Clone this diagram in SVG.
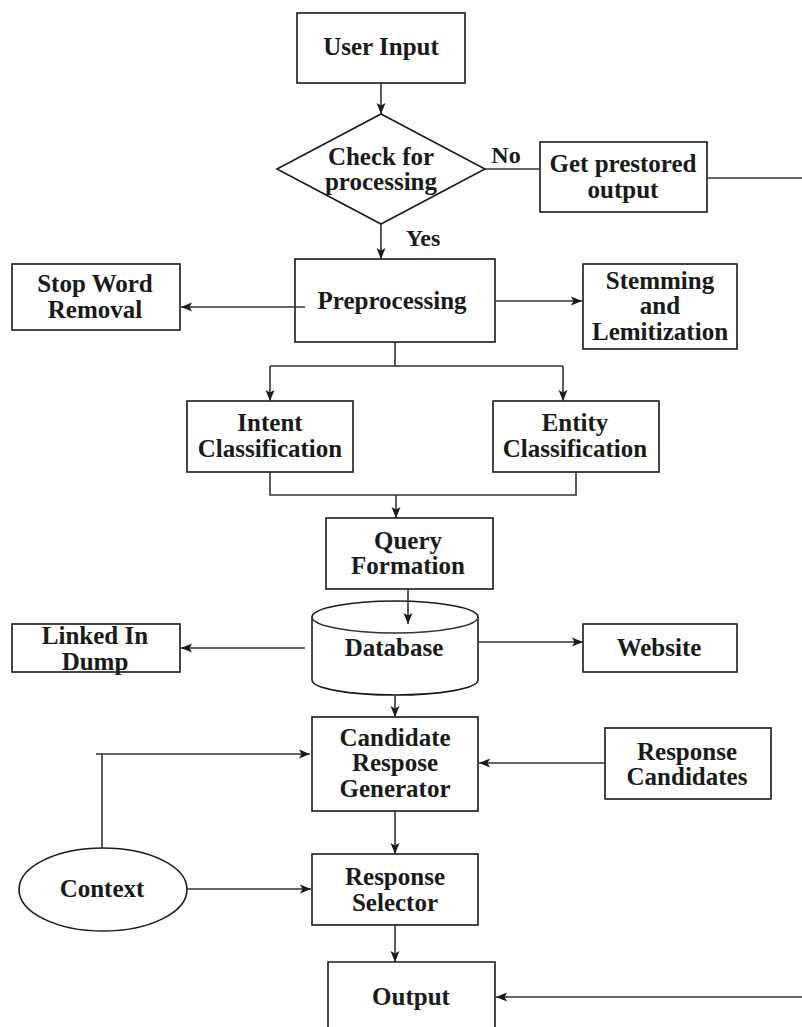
<svg xmlns="http://www.w3.org/2000/svg" width="802" height="1027" viewBox="0 0 802 1027">
<style>
.box{fill:#fff;stroke:#1a1a1a;stroke-width:1.6}
.ln{fill:none;stroke:#333;stroke-width:1.6}
.arr{fill:none;stroke:#333;stroke-width:1.6;marker-end:url(#ah)}
text{font-family:"Liberation Serif","Times New Roman",serif;font-weight:bold;font-size:25px;fill:#1a1a1a;text-anchor:middle}
.lbl{font-size:24px}
</style>
<defs>
<marker id="ah" markerUnits="userSpaceOnUse" markerWidth="12" markerHeight="12" viewBox="0 0 12 12" refX="11" refY="6" orient="auto">
<path d="M0,1.5 L11,6 L0,10.5 L2.5,6 Z" fill="#1a1a1a"/>
</marker>
</defs>
<rect width="802" height="1027" fill="#fff"/>
<g id="user-input">
<rect class="box" x="297" y="13" width="168" height="70"/>
<text x="381" y="55">User Input</text>
</g>
<g id="check">
<polygon class="box" points="381,114 485,169 381,224 277,169"/>
<text x="381" y="165">Check for</text>
<text x="381" y="190">processing</text>
</g>
<g id="label-no"><text class="lbl" x="506" y="163">No</text></g>
<g id="label-yes"><text class="lbl" x="423" y="246">Yes</text></g>
<g id="prestored">
<rect class="box" x="540" y="142" width="167" height="70"/>
<text x="623" y="172">Get prestored</text>
<text x="623" y="198">output</text>
</g>
<g id="preprocessing">
<rect class="box" x="295" y="259" width="200" height="83"/>
<text x="392" y="309">Preprocessing</text>
</g>
<g id="stopword">
<rect class="box" x="12" y="264" width="168" height="66"/>
<text x="95" y="292">Stop Word</text>
<text x="95" y="318">Removal</text>
</g>
<g id="stemming">
<rect class="box" x="583" y="264" width="154" height="85"/>
<text x="660" y="289">Stemming</text>
<text x="660" y="314">and</text>
<text x="660" y="340">Lemitization</text>
</g>
<g id="intent">
<rect class="box" x="187" y="401" width="166" height="71"/>
<text x="270" y="431">Intent</text>
<text x="270" y="457">Classification</text>
</g>
<g id="entity">
<rect class="box" x="493" y="401" width="166" height="71"/>
<text x="575" y="431">Entity</text>
<text x="575" y="457">Classification</text>
</g>
<g id="query">
<rect class="box" x="326" y="518" width="167" height="71"/>
<text x="408" y="549">Query</text>
<text x="408" y="574">Formation</text>
</g>
<g id="database">
<path class="box" d="M312,617 L312,680 A83,15 0 0 0 478,680 L478,617 A83,16 0 0 0 312,617 Z"/>
<path class="ln" d="M312,617 A83,16 0 0 0 478,617"/>
<text x="394" y="656">Database</text>
</g>
<g id="linkedin">
<rect class="box" x="12" y="624" width="168" height="48"/>
<text x="95" y="644">Linked In</text>
<text x="95" y="670">Dump</text>
</g>
<g id="website">
<rect class="box" x="583" y="624" width="154" height="48"/>
<text x="659" y="656">Website</text>
</g>
<g id="candidate">
<rect class="box" x="312" y="717" width="166" height="94"/>
<text x="395" y="746">Candidate</text>
<text x="395" y="771">Respose</text>
<text x="395" y="797">Generator</text>
</g>
<g id="response-candidates">
<rect class="box" x="605" y="728" width="166" height="71"/>
<text x="687" y="760">Response</text>
<text x="687" y="785">Candidates</text>
</g>
<g id="context">
<ellipse class="box" cx="103" cy="889.5" rx="84" ry="41.5"/>
<text x="102" y="897">Context</text>
</g>
<g id="selector">
<rect class="box" x="312" y="854" width="166" height="71"/>
<text x="395" y="885">Response</text>
<text x="395" y="911">Selector</text>
</g>
<g id="output">
<path class="box" d="M328,1030 L328,962 L495,962 L495,1030"/>
<text x="411" y="1005">Output</text>
</g>
<g id="connectors">
<line class="arr" x1="381" y1="83" x2="381" y2="114"/>
<line class="ln" x1="485" y1="169" x2="540" y2="169"/>
<line class="ln" x1="707" y1="178" x2="802" y2="178"/>
<line class="arr" x1="381" y1="224" x2="381" y2="259"/>
<line class="arr" x1="305" y1="307" x2="181" y2="307"/>
<line class="arr" x1="496" y1="301" x2="582" y2="301"/>
<polyline class="ln" points="395,342 395,366"/>
<line class="ln" x1="270" y1="366" x2="563" y2="366"/>
<line class="arr" x1="270" y1="366" x2="270" y2="401"/>
<line class="arr" x1="563" y1="366" x2="563" y2="401"/>
<polyline class="ln" points="270,472 270,495 576,495 576,472"/>
<line class="arr" x1="396" y1="495" x2="396" y2="518"/>
<line class="arr" x1="408" y1="589" x2="408" y2="624"/>
<line class="arr" x1="305" y1="648" x2="181" y2="648"/>
<line class="arr" x1="478" y1="642" x2="583" y2="642"/>
<line class="arr" x1="395" y1="695" x2="395" y2="717"/>
<line class="arr" x1="605" y1="763" x2="479" y2="763"/>
<polyline class="ln" points="102,848 102,754"/>
<line class="arr" x1="96" y1="754" x2="310" y2="754"/>
<line class="arr" x1="187" y1="889" x2="311" y2="889"/>
<line class="arr" x1="395" y1="811" x2="395" y2="854"/>
<line class="arr" x1="395" y1="925" x2="395" y2="962"/>
<line class="arr" x1="802" y1="997" x2="496" y2="997"/>
</g>
</svg>
